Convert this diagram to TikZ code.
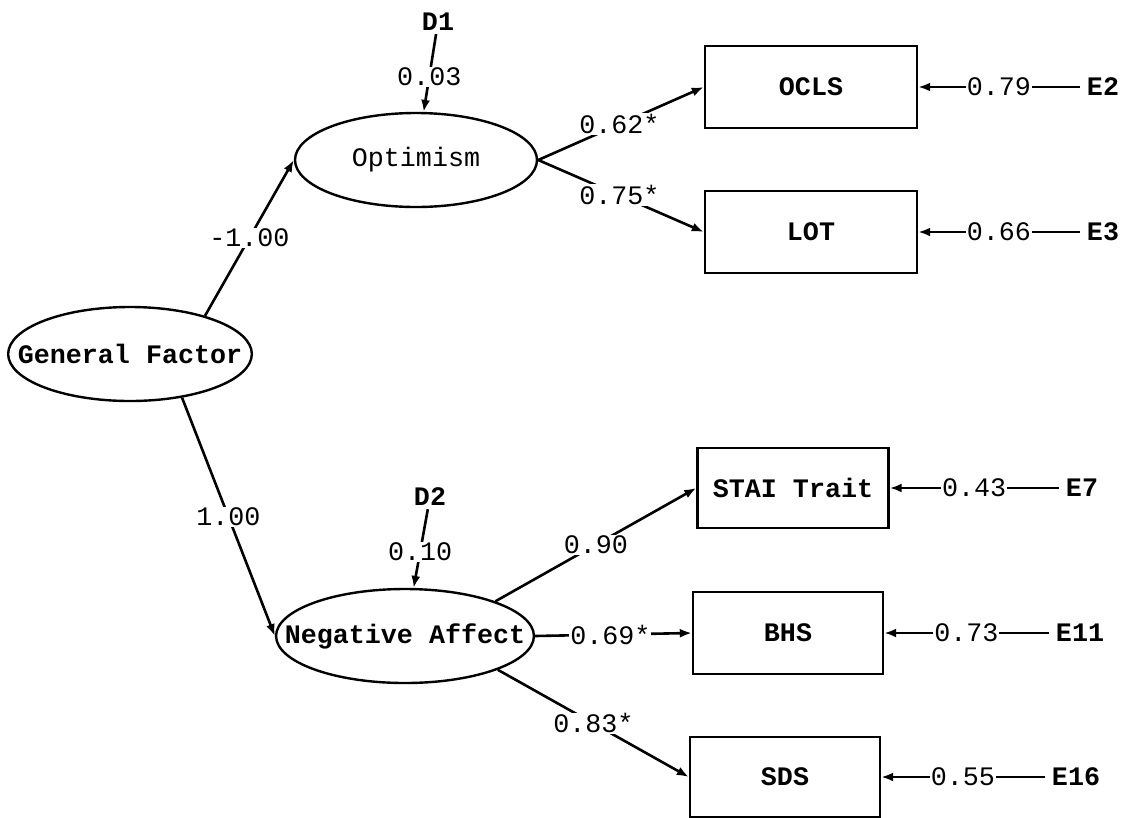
\documentclass[tikz,border=0pt]{standalone}
\usepackage{fontspec}
\setmonofont{Liberation Mono}
\usetikzlibrary{arrows.meta,shapes.geometric}

\begin{document}
\begin{tikzpicture}[x=1pt,y=-1pt,line width=2.6pt,
  every node/.style={font=\ttfamily\fontsize{26.7}{30}\selectfont},
  fac/.style={draw,ellipse,line width=2.4pt,minimum height=94pt,inner ysep=0pt,font=\ttfamily\bfseries\fontsize{26.7}{30}\selectfont},
  obs/.style={draw,rectangle,line width=2.4pt,minimum width=212pt,minimum height=82pt,inner sep=0pt,font=\ttfamily\bfseries\fontsize{26.7}{30}\selectfont},
  res/.style={inner sep=6pt,font=\ttfamily\bfseries\fontsize{26.7}{30}\selectfont},
  coef/.style={fill=white,inner sep=1pt},
  arr/.style={-{Latex[length=12pt,width=9pt]}}]

\useasboundingbox (0,0) rectangle (1134,817);

\node[fac,inner xsep=-26pt] (gf) at (130,354) {General Factor};
\node[fac,inner xsep=0pt,minimum width=242pt,font=\ttfamily\fontsize{26.7}{30}\selectfont] (opt) at (416,160) {Optimism};
\node[fac,inner xsep=-29pt] (na) at (405,636) {Negative Affect};

\node[obs] (ocls) at (811,87) {OCLS};
\node[obs] (lot) at (811,232) {LOT};
\node[obs,minimum width=191pt,minimum height=80pt] (stai) at (793,488) {STAI Trait};
\node[obs,minimum width=190pt] (bhs) at (788,633) {BHS};
\node[obs,minimum width=190pt,minimum height=80pt] (sds) at (785,777) {SDS};

\node[res] (e2) at (1103,87) {E2};
\node[res] (e3) at (1103,232) {E3};
\node[res] (e7) at (1082,488) {E7};
\node[res] (e11) at (1080,633) {E11};
\node[res] (e16) at (1076,777) {E16};
\node[res,inner sep=2pt] (d1) at (438,22) {D1};
\node[res,inner sep=2pt] (d2) at (430,497) {D2};

\draw[arr] (gf.27)--(opt.west) node[coef,pos=0.5] {-1.00};
\draw[arr] (gf.-40)--(na.west) node[coef,pos=0.5] {1.00};
\draw[arr] (d1)--(opt) node[coef,pos=0.55] {0.03};
\draw[arr] (d2)--(na) node[coef,pos=0.54] {0.10};

\draw[arr] (opt.east)--(ocls.west) node[coef,pos=0.49] {0.62*};
\draw[arr] (opt.east)--(lot.west) node[coef,pos=0.49] {0.75*};
\draw[arr] (na.21)--(stai.west) node[coef,pos=0.5] {0.90};
\draw[arr] (na.east)--(bhs.west) node[coef,pos=0.48] {0.69*};
\draw[arr] (na.-20)--(sds.west) node[coef,pos=0.5] {0.83*};

\draw[arr] (e2)--(ocls.east) node[coef,pos=0.5] {0.79};
\draw[arr] (e3)--(lot.east) node[coef,pos=0.5] {0.66};
\draw[arr] (e7)--(stai.east) node[coef,pos=0.5] {0.43};
\draw[arr] (e11)--(bhs.east) node[coef,pos=0.5] {0.73};
\draw[arr] (e16)--(sds.east) node[coef,pos=0.5] {0.55};

\end{tikzpicture}
\end{document}
